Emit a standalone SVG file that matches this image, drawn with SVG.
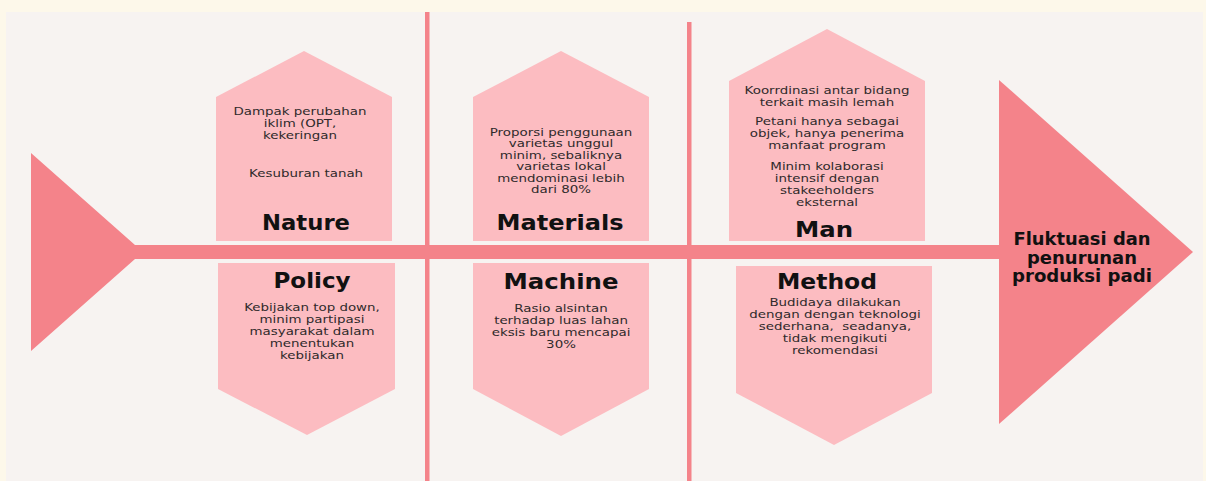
<svg xmlns="http://www.w3.org/2000/svg" width="1206" height="481" viewBox="0 0 1206 481">
<style>
.box{fill:#fcbcc1}
.coral{fill:#f4838a}
.ttl{font-family:"DejaVu Sans","Liberation Sans",sans-serif;font-weight:bold;font-size:20.5px;fill:#111;text-anchor:middle}
.bd{font-family:"DejaVu Sans","Liberation Sans",sans-serif;font-size:11px;fill:#2f2a2b;text-anchor:middle}
.hd{font-family:"DejaVu Sans","Liberation Sans",sans-serif;font-weight:bold;font-size:17px;fill:#111;text-anchor:middle}
</style>
<rect x="0" y="0" width="1206" height="481" fill="#fdf8ea"/>
<rect x="6" y="12" width="1197" height="469" fill="#f7f3f1"/>

<g id="connectors">
  <rect x="425" y="12" width="4.5" height="469" class="coral"/>
  <rect x="687" y="22" width="4.5" height="459" class="coral"/>
  <polygon class="coral" points="31,153 135,245 1000,245 1000,259 135,259 31,351"/>
</g>

<g id="head">
  <polygon class="coral" points="999,80 1193,252 999,424"/>
  <text class="hd"><tspan x="1082" y="245" textLength="137" lengthAdjust="spacingAndGlyphs">Fluktuasi dan</tspan><tspan x="1082" y="264" textLength="110" lengthAdjust="spacingAndGlyphs">penurunan</tspan><tspan x="1082" y="282" textLength="140" lengthAdjust="spacingAndGlyphs">produksi padi</tspan></text>
</g>

<g id="nature">
  <polygon class="box" points="216,97 304,51 392,97 392,241 216,241"/>
  <text class="bd" transform="translate(300 0) scale(1.22 1)"><tspan x="0" y="115">Dampak perubahan</tspan><tspan x="0" y="127">iklim (OPT,</tspan><tspan x="0" y="139">kekeringan</tspan><tspan x="5" y="177">Kesuburan tanah</tspan></text>
  <text class="ttl" x="306" y="230" textLength="88" lengthAdjust="spacingAndGlyphs">Nature</text>
</g>

<g id="materials">
  <polygon class="box" points="473,97 561,51 649,97 649,241 473,241"/>
  <text class="bd" transform="translate(561 0) scale(1.22 1)"><tspan x="0" y="136">Proporsi penggunaan</tspan><tspan x="0" y="147.5">varietas unggul</tspan><tspan x="0" y="159">minim, sebaliknya</tspan><tspan x="0" y="170.5">varietas lokal</tspan><tspan x="0" y="182">mendominasi lebih</tspan><tspan x="0" y="193.5">dari 80%</tspan></text>
  <text class="ttl" x="560" y="230" textLength="127" lengthAdjust="spacingAndGlyphs">Materials</text>
</g>

<g id="man">
  <polygon class="box" points="729,81 827,29 925,81 925,241 729,241"/>
  <text class="bd" transform="translate(827 0) scale(1.22 1)"><tspan x="0" y="94">Koorrdinasi antar bidang</tspan><tspan x="0" y="106">terkait masih lemah</tspan><tspan x="0" y="125">Petani hanya sebagai</tspan><tspan x="0" y="137">objek, hanya penerima</tspan><tspan x="0" y="149">manfaat program</tspan><tspan x="0" y="170">Minim kolaborasi</tspan><tspan x="0" y="182">intensif dengan</tspan><tspan x="0" y="194">stakeeholders</tspan><tspan x="0" y="206">eksternal</tspan></text>
  <text class="ttl" x="824" y="237" textLength="58" lengthAdjust="spacingAndGlyphs">Man</text>
</g>

<g id="policy">
  <polygon class="box" points="218,263 395,263 395,389 307,435 218,389"/>
  <text class="ttl" x="312" y="288" textLength="77" lengthAdjust="spacingAndGlyphs">Policy</text>
  <text class="bd" transform="translate(312 0) scale(1.22 1)"><tspan x="0" y="311">Kebijakan top down,</tspan><tspan x="0" y="323">minim partipasi</tspan><tspan x="0" y="335">masyarakat dalam</tspan><tspan x="0" y="347">menentukan</tspan><tspan x="0" y="359">kebijakan</tspan></text>
</g>

<g id="machine">
  <polygon class="box" points="473,263 649,263 649,389 561,436 473,389"/>
  <text class="ttl" x="561" y="289" textLength="115" lengthAdjust="spacingAndGlyphs">Machine</text>
  <text class="bd" transform="translate(561 0) scale(1.22 1)"><tspan x="0" y="312">Rasio alsintan</tspan><tspan x="0" y="324">terhadap luas lahan</tspan><tspan x="0" y="336">eksis baru mencapai</tspan><tspan x="0" y="348">30%</tspan></text>
</g>

<g id="method">
  <polygon class="box" points="736,266 932,266 932,393 834,445 736,393"/>
  <text class="ttl" x="827" y="289" textLength="100" lengthAdjust="spacingAndGlyphs">Method</text>
  <text class="bd" transform="translate(835 0) scale(1.22 1)"><tspan x="0" y="306">Budidaya dilakukan</tspan><tspan x="0" y="318">dengan dengan teknologi</tspan><tspan x="0" y="330">sederhana,&#160; seadanya,</tspan><tspan x="0" y="342">tidak mengikuti</tspan><tspan x="0" y="354">rekomendasi</tspan></text>
</g>
</svg>
